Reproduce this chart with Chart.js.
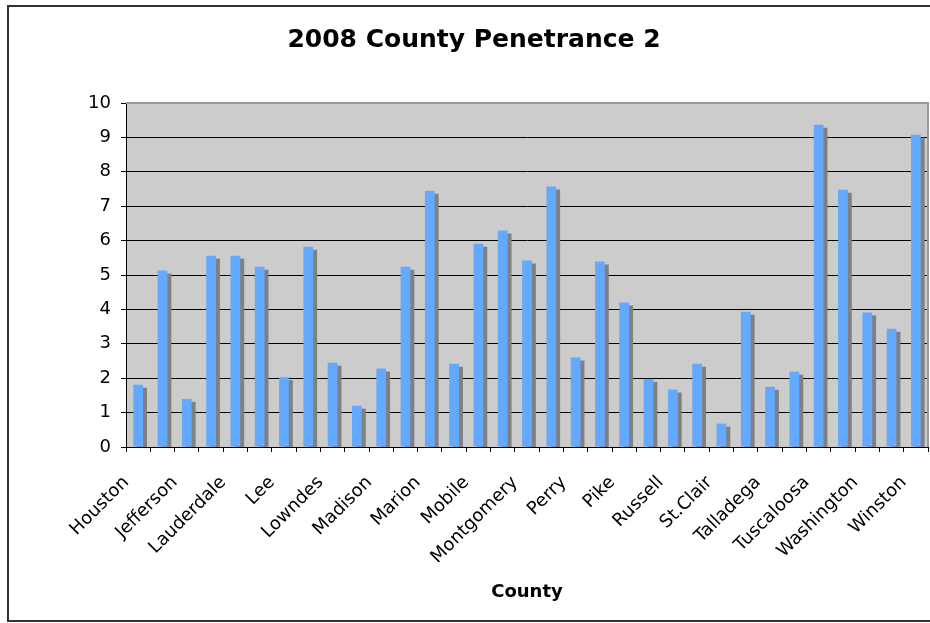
<!DOCTYPE html>
<html>
<head>
<meta charset="utf-8">
<script src="https://cdn.jsdelivr.net/npm/chart.js@4.4.1/dist/chart.umd.min.js"></script>
<style>
  html, body { margin: 0; padding: 0; background: #ffffff; }
  canvas { display: block; }
</style>
</head>
<body>
<canvas id="c" width="930" height="623"></canvas>
<script>
// Categories: only every other county name is shown on the axis in the original.
const categories = [
  'Houston', '', 'Jefferson', '', 'Lauderdale', '', 'Lee', '', 'Lowndes', '',
  'Madison', '', 'Marion', '', 'Mobile', '', 'Montgomery', '', 'Perry', '',
  'Pike', '', 'Russell', '', 'St.Clair', '', 'Talladega', '', 'Tuscaloosa', '',
  'Washington', '', 'Winston'
];
const penetrance = [
  1.81, 5.13, 1.40, 5.56, 5.56, 5.24, 2.03, 5.82, 2.45, 1.20,
  2.28, 5.24, 7.45, 2.42, 5.91, 6.29, 5.42, 7.57, 2.60, 5.39,
  4.20, 1.98, 1.67, 2.42, 0.68, 3.93, 1.75, 2.19, 9.37, 7.48,
  3.91, 3.44, 9.08
];
const chartTitle = '2008 County Penetrance 2';
const xAxisTitle = 'County';
const yMin = 0, yMax = 10, yStep = 1;

const FONT = "'DejaVu Sans', Verdana, sans-serif";

const plotBackground = {
  id: 'plotBackground',
  beforeDraw(chart) {
    const { ctx, chartArea: a } = chart;
    ctx.save();
    ctx.fillStyle = '#CCCCCC';
    ctx.fillRect(a.left, a.top, a.right - a.left, a.bottom - a.top);
    ctx.restore();
  },
  afterDraw(chart) {
    const { ctx, chartArea: a } = chart;
    ctx.save();
    ctx.strokeStyle = '#999999';
    ctx.lineWidth = 2;
    ctx.beginPath();
    ctx.moveTo(a.left, a.top);
    ctx.lineTo(a.right, a.top);
    ctx.lineTo(a.right, a.bottom);
    ctx.stroke();
    // outer chart frame
    ctx.strokeStyle = '#333333';
    ctx.lineWidth = 2;
    ctx.strokeRect(8, 6, 960, 615);
    ctx.restore();
  }
};

const barShadow = {
  id: 'barShadow',
  beforeDatasetDraw(chart) {
    const ctx = chart.ctx;
    ctx.save();
    ctx.shadowColor = '#808080';
    ctx.shadowOffsetX = 4;
    ctx.shadowOffsetY = 3;
    ctx.shadowBlur = 0;
  },
  afterDatasetDraw(chart) {
    chart.ctx.restore();
  }
};

new Chart(document.getElementById('c'), {
  type: 'bar',
  data: {
    labels: categories,
    datasets: [{
      label: 'Penetrance',
      data: penetrance,
      backgroundColor: '#63A9FF',
      borderWidth: 0,
      categoryPercentage: 1.0,
      barPercentage: 0.4,
      clip: 0
    }]
  },
  options: {
    responsive: false,
    animation: false,
    devicePixelRatio: 1,
    layout: { padding: { left: 20, right: 2, top: 0, bottom: 0 } },
    plugins: {
      legend: { display: false },
      tooltip: { enabled: false },
      title: {
        display: true,
        text: chartTitle,
        color: '#000',
        font: { family: FONT, size: 25, weight: 'bold' },
        padding: { top: 25, bottom: 48 }
      }
    },
    scales: {
      x: {
        grid: {
          offset: true,
          drawOnChartArea: false,
          drawTicks: true,
          tickLength: 5,
          tickColor: '#000',
          color: '#000'
        },
        border: { display: true, color: '#000', width: 1, z: 1 },
        ticks: {
          autoSkip: false,
          maxRotation: 45,
          minRotation: 45,
          padding: 20,
          labelOffset: -12,
          color: '#000',
          font: { family: FONT, size: 18 }
        },
        title: {
          display: true,
          text: xAxisTitle,
          color: '#000',
          font: { family: FONT, size: 18, weight: 'bold' },
          padding: { top: 20, bottom: 20 }
        },
        afterFit(scale) {
          scale.height = 176;
          scale.paddingRight = 0;
          scale.paddingLeft = 0;
        }
      },
      y: {
        min: yMin,
        max: yMax,
        grid: {
          drawTicks: true,
          tickLength: 5,
          tickColor: '#000',
          color: (c) => (c.tick && c.tick.value === yMax) ? '#999999' : '#000000',
          lineWidth: 1
        },
        border: { display: true, color: '#000', width: 1, z: 1 },
        ticks: {
          stepSize: yStep,
          padding: 10,
          color: '#000',
          font: { family: FONT, size: 18 }
        },
        afterFit(scale) { scale.width = 106; }
      }
    }
  },
  plugins: [plotBackground, barShadow]
});
</script>
</body>
</html>
